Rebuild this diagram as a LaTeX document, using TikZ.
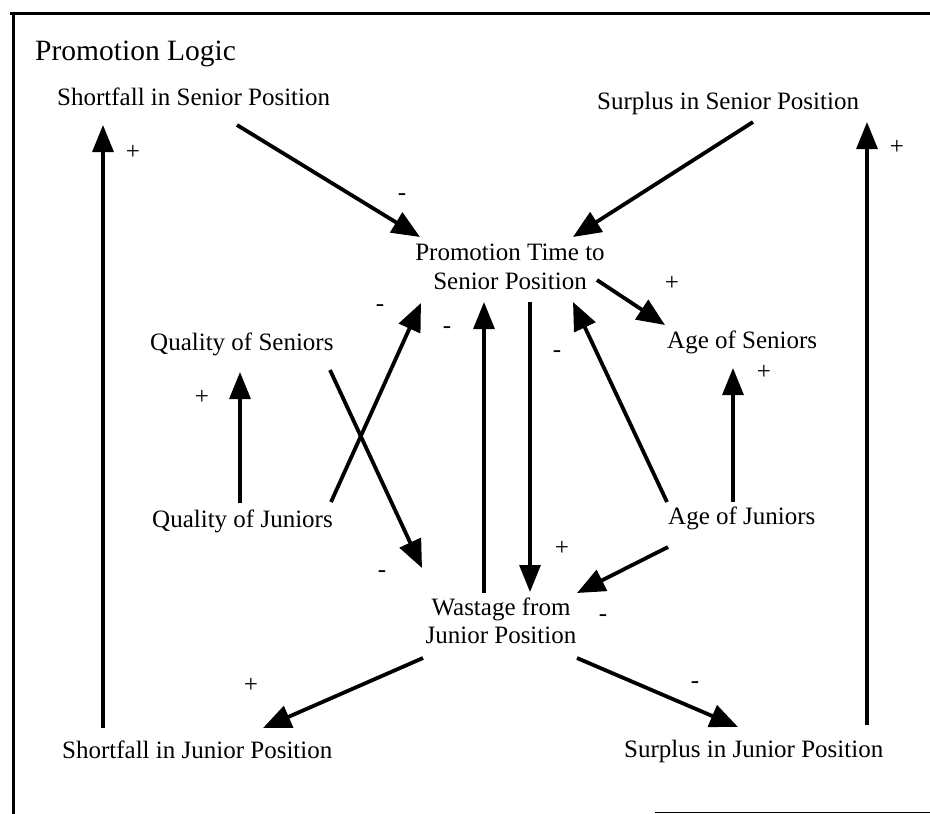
\documentclass[tikz,border=0pt]{standalone}
\usepackage{fontspec}
\setmainfont{Liberation Serif}
\usetikzlibrary{arrows.meta,calc}
\tikzset{
  lbl/.style={font=\fontsize{25}{29}\selectfont, inner sep=0pt, anchor=base west},
  twoline/.style={font=\fontsize{25}{29}\selectfont, inner sep=0pt, anchor=center, align=center},
  sign/.style={font=\fontsize{25}{29}\selectfont, inner sep=0pt, anchor=center},
  link/.style={line width=3.8pt, -{Triangle[length=28pt,width=23pt]}},
  vlink/.style={line width=3.2pt, -{Triangle[length=27pt,width=21pt]}},
  frameline/.style={line width=3pt}
}
\begin{document}
\begin{tikzpicture}[x=1pt,y=-1pt]
\useasboundingbox (0,0) rectangle (930,814);
% frame
\draw[frameline] (10,13) -- (930,13);
\draw[frameline] (13,11.5) -- (13,814);
\draw[line width=1.5pt] (655,812.5) -- (930,812.5);
% title
\node[inner sep=0pt, anchor=base west, font=\fontsize{29.5}{34}\selectfont] (title) at (35,60) {Promotion Logic};
% nodes
\node[lbl] (sfs) at (57,105) {Shortfall in Senior Position};
\node[lbl] (sps) at (597,109) {Surplus in Senior Position};
\node[twoline] (pt) at (510,267) {Promotion Time to\\Senior Position};
\node[lbl] (qs) at (150,350) {Quality of Seniors};
\node[lbl] (qj) at (152,527) {Quality of Juniors};
\node[lbl] (ase) at (667,348) {Age of Seniors};
\node[lbl] (aju) at (668,524) {Age of Juniors};
\node[twoline, font=\fontsize{25}{28}\selectfont] (wj) at (501,621) {Wastage from\\Junior Position};
\node[lbl] (sfj) at (62,758) {Shortfall in Junior Position};
\node[lbl] (spj) at (624,757) {Surplus in Junior Position};
% connectors
\draw[link] ($(sfs.base west)+(180,20)$) -- ($(pt.center)+(-90,-30)$);
\draw[link] ($(sps.base west)+(156,13)$) -- ($(pt.center)+(63,-30)$);
\draw[vlink] ($(sfj.base west)+(41,-30)$) -- ($(sfs.base west)+(46,20)$);
\draw[vlink] ($(spj.base west)+(243,-32)$) -- ($(sps.base west)+(270,13)$);
\draw[link] ($(pt.center)+(87,13)$) -- ($(ase.base west)+(-2,-23)$);
\draw[link] ($(qj.base west)+(179,-25)$) -- ($(pt.center)+(-89,36)$);
\draw[link] ($(qs.base west)+(180,20)$) -- ($(wj.center)+(-79,-53)$);
\draw[vlink] ($(wj.center)+(-17,-28)$) -- ($(pt.center)+(-26,35)$);
\draw[vlink] ($(pt.center)+(20,35)$) -- ($(wj.center)+(29,-29)$);
\draw[link] ($(aju.base west)+(-1,-22)$) -- ($(pt.center)+(63,35)$);
\draw[vlink] ($(aju.base west)+(65,-22)$) -- ($(ase.base west)+(66,20)$);
\draw[link] ($(aju.base west)+(0,23)$) -- ($(wj.center)+(76,-28)$);
\draw[vlink] ($(qj.base west)+(88,-24)$) -- ($(qs.base west)+(90,22)$);
\draw[link] ($(wj.center)+(-78,37)$) -- ($(sfj.base west)+(201,-30)$);
\draw[link] ($(wj.center)+(76,37)$) -- ($(spj.base west)+(114,-30)$);
% signs
\node[sign] (p1) at (133,152) {+};
\node[sign] (p2) at (897,147) {+};
\node[sign] (p3) at (672,283) {+};
\node[sign] (p4) at (764,372) {+};
\node[sign] (p5) at (202,397) {+};
\node[sign] (p6) at (562,548) {+};
\node[sign] (p7) at (251,685) {+};
\node[sign] (m1) at (402,197) {-};
\node[sign] (m2) at (380,308) {-};
\node[sign] (m3) at (447,330) {-};
\node[sign] (m4) at (382,574) {-};
\node[sign] (m5) at (557,354) {-};
\node[sign] (m6) at (603,618) {-};
\node[sign] (m7) at (695,685) {-};
\end{tikzpicture}
\end{document}
